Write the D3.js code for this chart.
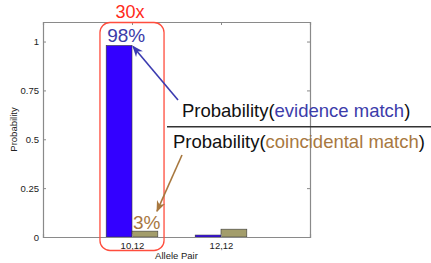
<!DOCTYPE html>
<html>
<head>
<meta charset="utf-8">
<script src="https://cdn.jsdelivr.net/npm/d3@7"></script>
<style>
  body { margin: 0; background: #fff; }
  svg { font-family: "Liberation Sans", Arial, Helvetica, sans-serif; display: block; }
</style>
</head>
<body>
<div id="chart"></div>
<script>
// Dane wykresu
const categories = ["10,12", "12,12"];
const evidenceMatch = [0.98, 0.01];
const coincidentalMatch = [0.03, 0.04];
const yTicks = [0, 0.25, 0.5, 0.75, 1];
const seriesNames = ["evidence", "coincidental"];
const seriesColors = ["#3300ff", "#a39d6b"];

const W = 431, H = 263;
const margin = { top: 22, right: 121, bottom: 26, left: 43 };
const width = W - margin.left - margin.right;
const height = H - margin.top - margin.bottom;

const svg = d3.select("#chart").append("svg")
    .attr("width", W)
    .attr("height", H);

const g = svg.append("g")
    .attr("transform", `translate(${margin.left},${margin.top})`);

// Skale (xlim [0,3], ylim [0,1.1])
const x = d3.scaleLinear().domain([0, categories.length + 1]).range([0, width]);
const y = d3.scaleLinear().domain([0, 1.1]).range([height, 0]);
const barW = 0.29;

// Słupki
[evidenceMatch, coincidentalMatch].forEach((vals, s) => {
    g.selectAll(`.bar-${seriesNames[s]}`)
        .data(vals)
        .enter().append("rect")
        .attr("class", `bar-${seriesNames[s]}`)
        .attr("x", (d, i) => x(i + 1 + (s - 1) * barW))
        .attr("width", x(barW) - x(0))
        .attr("y", d => y(d))
        .attr("height", d => y(0) - y(d))
        .attr("fill", seriesColors[s])
        .attr("stroke", "#3a3a3a")
        .attr("stroke-width", 0.6);
});

// Osie (ticki do środka jak w MATLAB)
const axisColor = "#8a8a8a";
const styleAxis = sel => {
    sel.selectAll("path, line").attr("stroke", axisColor);
    sel.selectAll("text").attr("fill", "#222").style("font-size", "9.5px");
};

g.append("g")
    .call(d3.axisLeft(y).tickValues(yTicks).tickSize(-3).tickPadding(4)
        .tickFormat(d => d3.format("~g")(d)))
    .call(styleAxis);

g.append("g")
    .attr("transform", `translate(${width},0)`)
    .call(d3.axisRight(y).tickValues(yTicks).tickSize(-3).tickFormat(""))
    .call(styleAxis);

g.append("g")
    .attr("transform", `translate(0,${height})`)
    .call(d3.axisBottom(x).tickValues(categories.map((c, i) => i + 1)).tickSize(-3).tickPadding(5)
        .tickFormat((d, i) => categories[i]))
    .call(styleAxis);

g.append("g")
    .call(d3.axisTop(x).tickValues(categories.map((c, i) => i + 1)).tickSize(-3).tickFormat(""))
    .call(styleAxis);

g.selectAll(".domain").attr("stroke-width", 1.2);

// Etykiety osi
svg.append("text")
    .attr("x", margin.left + width / 2)
    .attr("y", 259)
    .attr("text-anchor", "middle")
    .style("font-size", "9.5px")
    .attr("fill", "#222")
    .text("Allele Pair");

svg.append("text")
    .attr("transform", `translate(17,${margin.top + y(0.55)}) rotate(-90)`)
    .attr("text-anchor", "middle")
    .style("font-size", "9.5px")
    .attr("fill", "#222")
    .text("Probability");

// Czerwona ramka wokół 10,12
const boxX0 = x(1 - 0.36), boxX1 = x(1 + 0.36);
g.append("rect")
    .attr("x", boxX0)
    .attr("y", y(1.1) + 0.5)
    .attr("width", boxX1 - boxX0)
    .attr("height", y(0) + 13 - y(1.1))
    .attr("rx", 10)
    .attr("fill", "none")
    .attr("stroke", "#ff4d3d")
    .attr("stroke-width", 1.3);

g.append("text")
    .attr("x", x(1) - 2)
    .attr("y", -4)
    .attr("text-anchor", "middle")
    .style("font-size", "18px")
    .attr("fill", "#ff2a1a")
    .text("30x");

// Etykiety procentowe
g.append("text")
    .attr("x", x(1 - barW) + 1)
    .attr("y", y(evidenceMatch[0]) - 3)
    .style("font-size", "19px")
    .attr("fill", "#3b3ba8")
    .text(d3.format(".0%")(evidenceMatch[0]));

g.append("text")
    .attr("x", x(1) + 1)
    .attr("y", y(coincidentalMatch[0]) - 2)
    .style("font-size", "19px")
    .attr("fill", "#a8783f")
    .text(d3.format(".0%")(coincidentalMatch[0]));

// Strzałki
const defs = svg.append("defs");
[["blueHead", "#3b3bb0"], ["brownHead", "#a8783f"]].forEach(([id, c]) => {
    defs.append("marker")
        .attr("id", id)
        .attr("viewBox", "0 0 10 10")
        .attr("refX", 9).attr("refY", 5)
        .attr("markerWidth", 7).attr("markerHeight", 7)
        .attr("orient", "auto")
        .append("path")
        .attr("d", "M0,1 L10,5 L0,9 L3,5 Z")
        .attr("fill", c);
});

svg.append("line")
    .attr("x1", 178).attr("y1", 100)
    .attr("x2", margin.left + x(1) + 1).attr("y2", margin.top + y(evidenceMatch[0]) + 1)
    .attr("stroke", "#3b3bb0")
    .attr("stroke-width", 1.6)
    .attr("marker-end", "url(#blueHead)");

svg.append("line")
    .attr("x1", 182).attr("y1", 155)
    .attr("x2", 157).attr("y2", margin.top + y(coincidentalMatch[0]) - 20)
    .attr("stroke", "#a8783f")
    .attr("stroke-width", 1.6)
    .attr("marker-end", "url(#brownHead)");

// Ułamek
const num = svg.append("text")
    .attr("x", 182).attr("y", 117)
    .style("font-size", "18.5px")
    .attr("fill", "#111");
num.append("tspan").text("Probability(");
num.append("tspan").attr("fill", "#3c3caa").text("evidence match");
num.append("tspan").text(")");

svg.append("line")
    .attr("x1", 167).attr("x2", W)
    .attr("y1", 126.7).attr("y2", 126.7)
    .attr("stroke", "#333")
    .attr("stroke-width", 1.5);

const den = svg.append("text")
    .attr("x", 173).attr("y", 148)
    .style("font-size", "18.5px")
    .attr("fill", "#111");
den.append("tspan").text("Probability(");
den.append("tspan").attr("fill", "#a8783f").text("coincidental match");
den.append("tspan").text(")");
</script>
</body>
</html>
